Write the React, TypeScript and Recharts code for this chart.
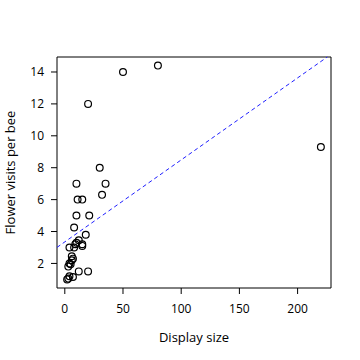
import { ScatterChart, Scatter, XAxis, YAxis, ReferenceArea, ReferenceLine } from "recharts";

// display size vs flower visits per bee
const displaySize = [2, 3, 4, 7, 12, 20, 3, 4, 5, 6, 7, 6, 4, 8, 10, 12, 9, 15, 15, 18, 8, 10, 21, 11, 15, 10, 35, 32, 30, 20, 50, 80, 220];
const visitsPerBee = [1.0, 1.05, 1.2, 1.15, 1.5, 1.5, 1.8, 2.0, 1.95, 2.2, 2.3, 2.45, 3.0, 3.0, 3.3, 3.45, 3.2, 3.1, 3.2, 3.8, 4.25, 5.0, 5.0, 6.0, 6.0, 7.0, 7.0, 6.3, 8.0, 12.0, 14.0, 14.4, 9.3];

const xTicks = [0, 50, 100, 150, 200];
const yTicks = [2, 4, 6, 8, 10, 12, 14];

// fitted line
const intercept = 3.35;
const slope = 0.0514;

const xDomain: [number, number] = [-6.7, 228.7];
const yDomain: [number, number] = [0.46, 14.94];

const points = displaySize.map((x, i) => ({ x, y: visitsPerBee[i] }));
const lineEnd = (yDomain[1] - intercept) / slope;

const font = "'Open Sans', 'DejaVu Sans', sans-serif";

const OpenCircle = (props: any) => (
  <circle cx={props.cx} cy={props.cy} r={3.4} fill="none" stroke="#000" strokeWidth={1.2} />
);

export default function App() {
  return (
    <div style={{ position: "absolute", left: 0, top: 0, width: 360, height: 360, background: "#fff" }}>
      <ScatterChart width={360} height={360} margin={{ top: 57, right: 29, bottom: 22, left: 0 }}>
        <XAxis
          type="number"
          dataKey="x"
          domain={xDomain}
          ticks={xTicks}
          allowDataOverflow
          height={50}
          axisLine={false}
          tickSize={6}
          tickMargin={10}
          tickLine={{ stroke: "#000" }}
          tick={{ fill: "#000", fontSize: 12, fontFamily: font }}
          label={{ value: "Display size", position: "insideBottom", offset: -4, fill: "#000", fontSize: 13, fontFamily: font }}
        />
        <YAxis
          type="number"
          dataKey="y"
          domain={yDomain}
          ticks={yTicks}
          allowDataOverflow
          width={57}
          axisLine={false}
          tickSize={6}
          tickMargin={7}
          tickLine={{ stroke: "#000" }}
          tick={{ fill: "#000", fontSize: 12, fontFamily: font }}
          label={{ value: "Flower visits per bee", angle: -90, position: "insideLeft", offset: 10, fill: "#000", fontSize: 13, fontFamily: font, style: { textAnchor: "middle" } }}
        />
        <ReferenceArea x1={xDomain[0]} x2={xDomain[1]} y1={yDomain[0]} y2={yDomain[1]} fill="none" stroke="#000" strokeWidth={1} />
        <ReferenceLine
          segment={[
            { x: xDomain[0], y: intercept + slope * xDomain[0] },
            { x: lineEnd, y: yDomain[1] },
          ]}
          stroke="#1f1fff"
          strokeDasharray="4 3"
          strokeWidth={1}
        />
        <Scatter data={points} shape={OpenCircle} isAnimationActive={false} />
      </ScatterChart>
    </div>
  );
}
